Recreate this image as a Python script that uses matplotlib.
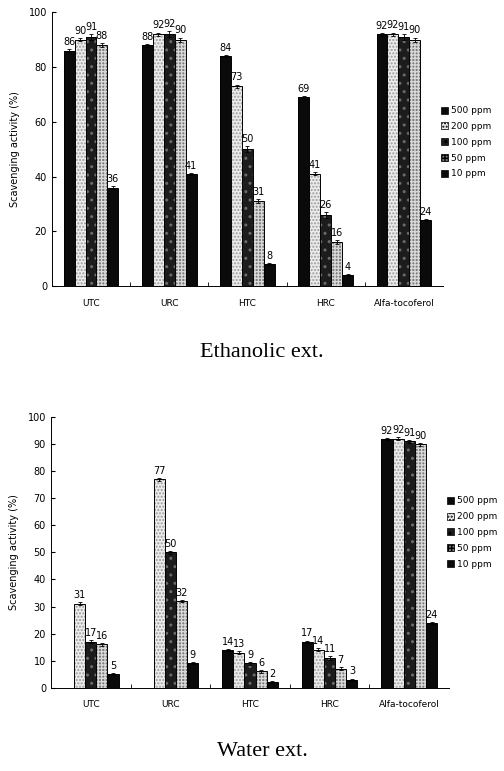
import numpy as np
import matplotlib
matplotlib.use('Agg')
import matplotlib.pyplot as plt

# data
groups = ['UTC', 'URC', 'HTC', 'HRC', 'Alfa-tocoferol']
doses = ['500 ppm', '200 ppm', '100 ppm', '50 ppm', '10 ppm']

# ethanolic extract, one list per dose (values for each group)
eth_500 = [86, 88, 84, 69, 92]
eth_200 = [90, 92, 73, 41, 92]
eth_100 = [91, 92, 50, 26, 91]
eth_50 = [88, 90, 31, 16, 90]
eth_10 = [36, 41, 8, 4, 24]
eth_err = [0.5, 0.6, 1.0, 0.8, 0.4]

# water extract (None = no bar)
wat_500 = [None, None, 14, 17, 92]
wat_200 = [31, 77, 13, 14, 92]
wat_100 = [17, 50, 9, 11, 91]
wat_50 = [16, 32, 6, 7, 90]
wat_10 = [5, 9, 2, 3, 24]
wat_err = [0.4, 0.5, 0.6, 0.5, 0.4]

# styles for the five doses: face, hatch, hatch colour
styles = [
    ('#0a0a0a', None, '#0a0a0a'),
    ('#ececec', '.....', '#9a9a9a'),
    ('#1c1c1c', '..', '#6a6a6a'),
    ('#7a7a7a', '+++++', '#d8d8d8'),
    ('#0a0a0a', None, '#0a0a0a'),
]

plt.rcParams['font.family'] = ['DejaVu Sans']
fig = plt.figure(figsize=(5.04, 7.71), dpi=100)


def draw_panel(ax, series, err, yticks, legend_y, caption, cap_y):
    x = np.arange(len(groups))
    w = 0.14
    for i, vals in enumerate(series):
        face, hatch, hcol = styles[i]
        xs = x + (i - 2) * w
        for j, v in enumerate(vals):
            if v is None:
                continue
            ax.bar(xs[j], v, w, color=face, hatch=hatch, edgecolor=hcol, linewidth=0)
            ax.bar(xs[j], v, w, fill=False, edgecolor='black', linewidth=0.7)
            ax.errorbar(xs[j], v, yerr=err[i], color='black', capsize=1.5,
                        elinewidth=0.6, capthick=0.6)
            ax.text(xs[j], v + err[i] + 0.8, str(v), ha='center', va='bottom',
                    fontsize=7)
        # legend handle
        ax.bar(np.nan, 0, w, color=face, hatch=hatch, edgecolor='black',
               linewidth=0.5, label=doses[i])
    ax.set_xlim(-0.5, len(groups) - 0.5)
    ax.set_ylim(0, 100)
    ax.set_yticks(yticks)
    ax.set_xticks(x)
    ax.set_xticklabels(groups, fontsize=6.5)
    ax.set_xticks(np.arange(0.5, len(groups) - 0.5), minor=True)
    ax.tick_params(axis='x', which='major', length=0, pad=9)
    ax.tick_params(axis='x', which='minor', length=3, direction='in')
    ax.tick_params(axis='y', labelsize=7, length=3, direction='in')
    ax.spines['top'].set_visible(False)
    ax.spines['right'].set_visible(False)
    ax.spines['left'].set_linewidth(0.7)
    ax.spines['bottom'].set_linewidth(0.7)
    ax.set_ylabel('Scavenging activity (%)', fontsize=7, labelpad=6)
    ax.legend(loc='upper left', bbox_to_anchor=(0.985, legend_y), frameon=False,
              fontsize=6.5, handlelength=0.8, handleheight=0.8, handletextpad=0.3,
              labelspacing=0.75, borderaxespad=0)
    fig.text(0.52, cap_y, caption, ha='center', va='center',
             fontsize=16, family='Liberation Serif')


ax1 = fig.add_axes([0.103, 0.629, 0.776, 0.355])
draw_panel(ax1, [eth_500, eth_200, eth_100, eth_50, eth_10], eth_err,
           np.arange(0, 101, 20), 0.67, 'Ethanolic ext.', 0.543)

ax2 = fig.add_axes([0.101, 0.108, 0.79, 0.351])
draw_panel(ax2, [wat_500, wat_200, wat_100, wat_50, wat_10], wat_err,
           np.arange(0, 101, 10), 0.72, 'Water ext.', 0.025)

fig.savefig('out.png', dpi=100)
